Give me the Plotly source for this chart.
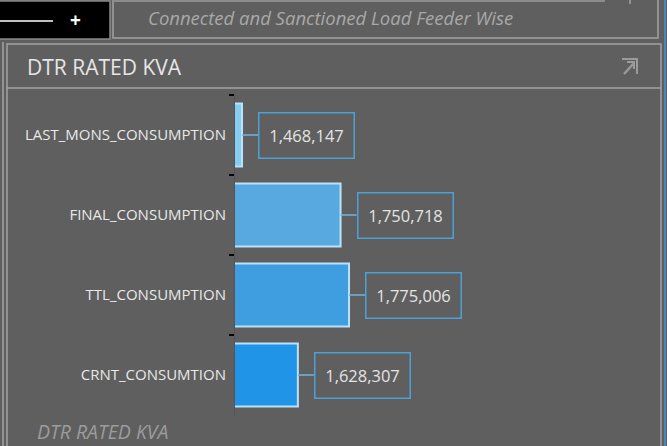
import plotly.graph_objects as go

categories = ["LAST_MONS_CONSUMPTION", "FINAL_CONSUMPTION", "TTL_CONSUMPTION", "CRNT_CONSUMTION"]
values = [1468147, 1750718, 1775006, 1628307]
bar_colors = ["#86cdf2", "#58a9e0", "#3f9ee0", "#2095e8"]
value_labels = [f"{v:,}" for v in values]

BG = "#5f5f5f"
BORDER = "#a3a3a3"
FONT = "Open Sans"

W, H = 667, 446
L, R, T, B = 235, 32, 95, 31
PW, PH = W - L - R, H - T - B
x_min = 1448000
units_per_px = 2868.0
x_max = x_min + PW * units_per_px

fig = go.Figure()
fig.add_trace(go.Bar(
    y=categories, x=values, orientation="h",
    marker=dict(color=bar_colors, line=dict(color="#b9e2fa", width=2)),
    width=0.79, hoverinfo="skip", showlegend=False,
))

annotations = []
shapes = []
for cat, v, lab in zip(categories, values, value_labels):
    shapes.append(dict(type="line", xref="x", yref="y", xsizemode="pixel", xanchor=v,
                       x0=0, x1=16, y0=cat, y1=cat,
                       line=dict(color="#6fb6e2", width=1.5)))
    annotations.append(dict(x=v, y=cat, xref="x", yref="y", text=lab, showarrow=False,
                            xanchor="left", yanchor="middle", xshift=16,
                            font=dict(family=FONT, size=16.5, color="#e4e4e4"),
                            bordercolor="#4aa2d8", borderwidth=1.5, borderpad=3,
                            width=88, height=38, align="center"))

# panel chrome: pixel -> paper (plot-area relative) coords
def px(x):
    return (x - L) / PW

def py(y):
    return (H - B - y) / PH

def path(points):
    return "M " + " L ".join(f"{px(x)},{py(y)}" for x, y in points)

chrome = [
    dict(type="rect", x0=px(-5), x1=px(110), y0=py(1), y1=py(39), fillcolor="#000000",
         line=dict(color="#8a8a8a", width=1.5)),
    dict(type="line", x0=px(-5), x1=px(53), y0=py(21), y1=py(21), line=dict(color="#ffffff", width=1.5)),
    dict(type="rect", x0=px(113), x1=px(658), y0=py(-5), y1=py(38), line=dict(color=BORDER, width=1.5)),
    dict(type="line", x0=px(113), x1=px(605), y0=py(1), y1=py(1), line=dict(color="#8c8c8c", width=2)),
    dict(type="line", x0=px(630), x1=px(630), y0=py(-5), y1=py(4), line=dict(color=BORDER, width=1.5)),
    dict(type="rect", x0=px(7), x1=px(661), y0=py(44), y1=py(470), line=dict(color=BORDER, width=1.5)),
    dict(type="line", x0=px(7), x1=px(661), y0=py(88), y1=py(88), line=dict(color=BORDER, width=1.5)),
    dict(type="line", x0=px(3), x1=px(3), y0=py(42), y1=py(470), line=dict(color=BORDER, width=1.5)),
    dict(type="line", x0=px(665), x1=px(665), y0=py(-5), y1=py(470), line=dict(color="#4a86c0", width=2)),
    # expand icon
    dict(type="path", path=path([(622, 59), (637, 59), (637, 74)]), line=dict(color="#9a9a9a", width=2)),
    dict(type="path", path=path([(624, 74), (634, 63)]), line=dict(color="#9a9a9a", width=2.5)),
    dict(type="path", path=path([(627, 62), (634, 62), (634, 69)]), line=dict(color="#9a9a9a", width=2)),
]
for s in chrome:
    s.update(xref="paper", yref="paper")
    shapes.append(s)

text_annots = [
    dict(x=px(68), y=py(20), text="<b>+</b>", font=dict(family=FONT, size=19, color="#ffffff")),
    dict(x=px(146), y=py(18), text="<i>Connected and Sanctioned Load Feeder Wise</i>", xanchor="left",
         font=dict(family=FONT, size=18.5, color="#a9a9a9")),
    dict(x=px(25), y=py(67), text="DTR RATED KVA", xanchor="left",
         font=dict(family=FONT, size=21, color="#e6e6e6")),
    dict(x=px(35), y=py(431), text="<i>DTR RATED KVA</i>", xanchor="left",
         font=dict(family=FONT, size=19.5, color="#9c9c9c")),
]
for a in text_annots:
    a.update(xref="paper", yref="paper", showarrow=False, yanchor="middle")
    annotations.append(a)

fig.update_layout(
    width=W, height=H, autosize=False,
    margin=dict(l=L, r=R, t=T, b=B, pad=0),
    paper_bgcolor=BG, plot_bgcolor=BG,
    font=dict(family=FONT, color="#e6e6e6"),
    shapes=shapes, annotations=annotations,
    xaxis=dict(range=[x_min, x_max], visible=False, fixedrange=True),
    yaxis=dict(type="category", categoryorder="array", categoryarray=categories,
               autorange="reversed", tickson="boundaries", ticks="outside", ticklen=5,
               tickcolor="#000000", tickwidth=2, showline=True, linecolor="#555555", linewidth=1,
               showgrid=False, zeroline=False, ticklabelstandoff=5,
               tickfont=dict(family=FONT, size=15, color="#e8e8e8")),
)

fig.write_html("out.html", config={"displayModeBar": False},
               post_script="document.body.style.margin='0';document.body.style.background='%s';" % BG)
